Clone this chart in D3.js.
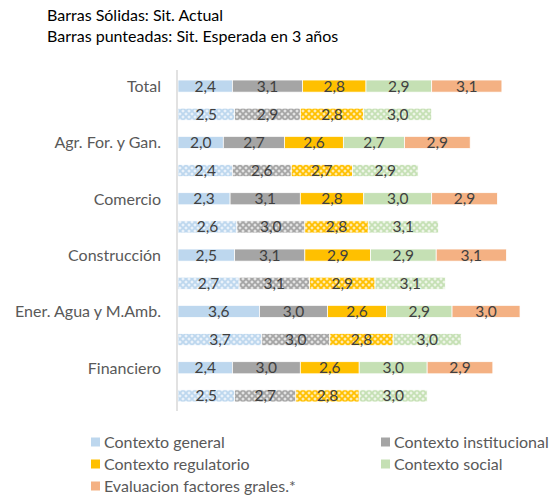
<!DOCTYPE html>
<html>
<head>
  <meta charset="utf-8">
  <script src="https://d3js.org/d3.v7.min.js"></script>
  <style>
    body { margin: 0; background: white; }
    text { font-family: Lato, "Open Sans", sans-serif; }
  </style>
</head>
<body>
  <svg id="chart" width="553" height="495"></svg>

  <script>
    // categories and series
    const sectors = ["Total", "Agr. For. y Gan.", "Comercio", "Construcción", "Ener. Agua y M.Amb.", "Financiero"];
    const series = ["Contexto general", "Contexto institucional", "Contexto regulatorio", "Contexto social", "Evaluacion factores grales.*"];
    const colors = ["#BDD7EE", "#A5A5A5", "#FFC000", "#C5E0B4", "#F4B183"];

    // solid bars: current situation
    const actual = [
      [2.4, 3.1, 2.8, 2.9, 3.1],
      [2.0, 2.7, 2.6, 2.7, 2.9],
      [2.3, 3.1, 2.8, 3.0, 2.9],
      [2.5, 3.1, 2.9, 2.9, 3.1],
      [3.6, 3.0, 2.6, 2.9, 3.0],
      [2.4, 3.0, 2.6, 3.0, 2.9]
    ];
    // dotted bars: expected in 3 years (no general evaluation)
    const expected = [
      [2.5, 2.9, 2.8, 3.0],
      [2.4, 2.6, 2.7, 2.9],
      [2.6, 3.0, 2.8, 3.1],
      [2.7, 3.1, 2.9, 3.1],
      [3.7, 3.0, 2.8, 3.0],
      [2.5, 2.7, 2.8, 3.0]
    ];

    const svg = d3.select("#chart");

    // patterns for the dotted bars
    const defs = svg.append("defs");
    colors.forEach((c, i) => {
      const p = defs.append("pattern")
        .attr("id", "pat" + i)
        .attr("width", 6)
        .attr("height", 6)
        .attr("patternUnits", "userSpaceOnUse");
      p.append("rect").attr("width", 6).attr("height", 6).attr("fill", c);
      p.append("path")
        .attr("d", "M3,1.2L4.8,3L3,4.8L1.2,3Z M0,-1.8L1.8,0L0,1.8L-1.8,0Z M6,-1.8L7.8,0L6,1.8L4.2,0Z M0,4.2L1.8,6L0,7.8L-1.8,6Z M6,4.2L7.8,6L6,7.8L4.2,6Z")
        .attr("fill", "white")
        .attr("opacity", 0.7);
    });

    // rows: solid then dotted for each sector
    const rows = [];
    sectors.forEach((s, i) => {
      rows.push({ key: s + "|a", sector: s, vals: actual[i], dotted: false });
      rows.push({ key: s + "|e", sector: s, vals: expected[i], dotted: true });
    });

    const x = d3.scaleLinear().domain([0, 16]).range([178, 540.4]);
    const y = d3.scaleBand().domain(rows.map(r => r.key)).range([72, 410]).paddingInner(0.57).paddingOuter(0.285);

    // title
    svg.append("text").attr("x", 47).attr("y", 21).attr("font-size", 16).attr("fill", "#000").text("Barras Sólidas: Sit. Actual");
    svg.append("text").attr("x", 47).attr("y", 42).attr("font-size", 16).attr("fill", "#000").text("Barras punteadas: Sit. Esperada en 3 años");

    // bars
    rows.forEach(r => {
      let acc = 0;
      r.vals.forEach((v, j) => {
        const x0 = x(acc), x1 = x(acc + v);
        svg.append("rect")
          .attr("x", x0)
          .attr("y", y(r.key))
          .attr("width", x1 - x0)
          .attr("height", y.bandwidth())
          .attr("fill", r.dotted ? "url(#pat" + j + ")" : colors[j])
          .attr("stroke", "white")
          .attr("stroke-width", 0.75);
        svg.append("text")
          .attr("x", (x0 + x1) / 2)
          .attr("y", y(r.key) + y.bandwidth() / 2)
          .attr("dy", "0.36em")
          .attr("text-anchor", "middle")
          .attr("font-size", 15.5)
          .attr("fill", "#404040")
          .text(d3.format(".1f")(v).replace(".", ","));
        acc += v;
      });
    });

    // vertical axis line
    svg.append("line")
      .attr("x1", 177).attr("x2", 177)
      .attr("y1", 70).attr("y2", 411)
      .attr("stroke", "#D9D9D9")
      .attr("stroke-width", 1.5);

    // category labels
    rows.filter(r => !r.dotted).forEach(r => {
      svg.append("text")
        .attr("x", 161)
        .attr("y", y(r.key) + y.bandwidth() / 2)
        .attr("dy", "0.36em")
        .attr("text-anchor", "end")
        .attr("font-size", 16)
        .attr("fill", "#595959")
        .text(r.sector);
    });

    // legend
    const legendPos = [[91, 442], [381, 442], [91, 464], [381, 464], [91, 486]];
    series.forEach((s, i) => {
      const [lx, ly] = legendPos[i];
      svg.append("rect")
        .attr("x", lx).attr("y", ly - 4.5)
        .attr("width", 9).attr("height", 9)
        .attr("fill", colors[i]);
      svg.append("text")
        .attr("x", lx + 13)
        .attr("y", ly)
        .attr("dy", "0.36em")
        .attr("font-size", 16)
        .attr("fill", "#595959")
        .text(s);
    });
  </script>
</body>
</html>
